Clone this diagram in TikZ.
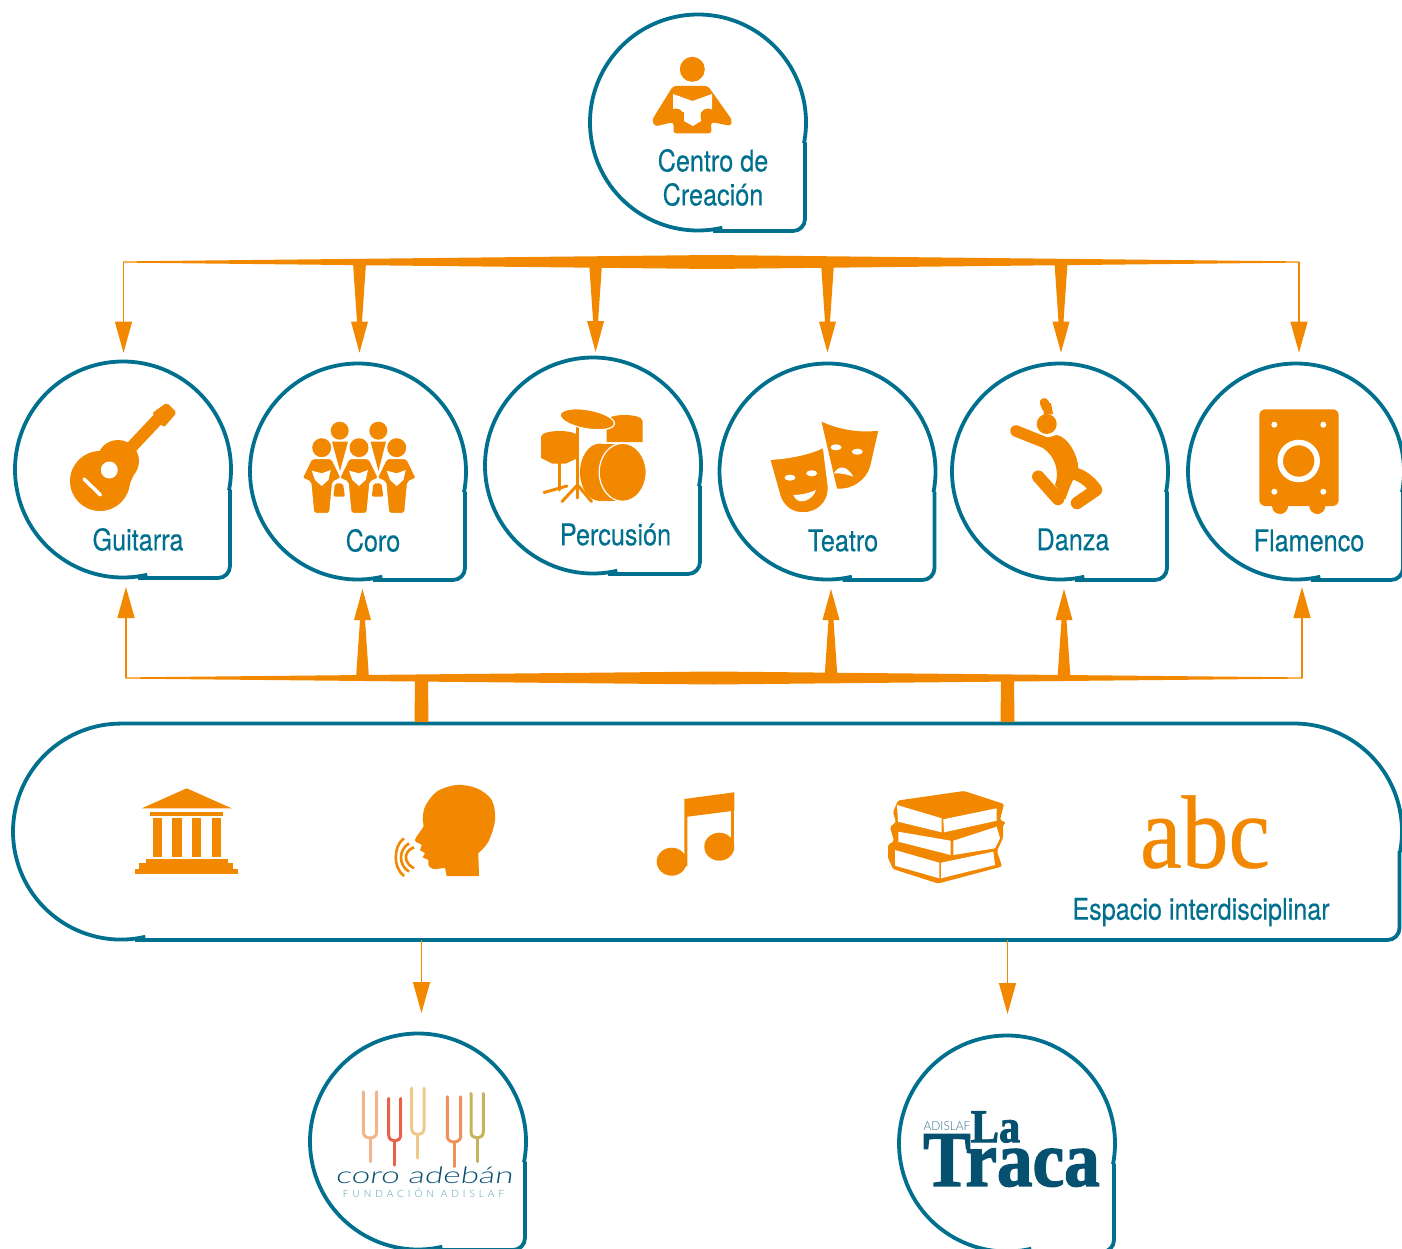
\documentclass[tikz,border=0pt]{standalone}
\usepackage{fontspec}
\usetikzlibrary{arrows.meta,calc}
\setmainfont[FakeStretch=0.84,FakeBold=0.25]{TeX Gyre Heros}
\newfontfamily\abcfont[FakeStretch=0.9,FakeBold=0.4]{Liberation Serif}
\newfontfamily\tracafont[FakeStretch=0.9,FakeBold=1.8]{Liberation Serif Bold}
\newfontfamily\logofont[FakeStretch=0.95]{Lato Light}
\newfontfamily\adebanfont[FakeStretch=1.45,FakeSlant=0.15]{Lato Light}
\newfontfamily\fundacionfont[LetterSpace=40]{Lato Light}
\definecolor{azulgota}{HTML}{00708E}
\definecolor{naranja}{HTML}{F28800}
\definecolor{azultraca}{HTML}{06516F}
\definecolor{horquillaa}{HTML}{F4B48A}
\definecolor{horquillab}{HTML}{E8624A}
\definecolor{horquillac}{HTML}{EEC98A}
\definecolor{horquillad}{HTML}{F0905A}
\definecolor{horquillae}{HTML}{C4B45A}
\tikzset{
    zona/.style={circle,minimum size=216pt,inner sep=0pt,outer sep=0pt},
    banda/.style={rectangle,minimum width=1391pt,minimum height=218pt,inner sep=0pt,outer sep=0pt},
    linea/.style={draw=azulgota,line width=3.8pt},
    rotulo/.style={text=azulgota,font=\fontsize{30}{36}\selectfont,inner sep=0pt,align=center},
    flecha/.style={fill=naranja},
    flechafina/.style={draw=naranja,line width=1.2pt,-{Triangle[length=31pt,width=17pt]}},
    icono/.style={fill=naranja},
    hueco/.style={fill=white},
    trazo/.style={draw=naranja,line cap=round,line join=round}
}
\newcommand{\gota}[1]{
    \draw[linea] ($(#1)+(77:108)$) arc[start angle=77,end angle=371,radius=108];
    \draw[linea,rounded corners=12pt] ($(#1)+(107,20)$) -- ($(#1)+(107,108.5)$) -- ($(#1)+(15,108.5)$);
}
\newcommand{\rama}[4]{
    \fill[flecha] ($(#1 -| #2)+(-#3,0)$) -- ($(#2)+(-2.5,#4)$) -- ($(#2)+(-8.5,#4)$) -- (#2)
        -- ($(#2)+(8.5,#4)$) -- ($(#2)+(2.5,#4)$) -- ($(#1 -| #2)+(#3,0)$) -- cycle;
}
\newcommand{\cantor}[1]{
    \begin{scope}[shift={(#1,0)}]
        \fill[icono] (0,447.7) circle (9.5);
        \fill[icono,draw=white,line width=1.2pt,rounded corners=2pt] (-10,458.5) -- (10,458.5) -- (19.5,478) -- (11,482)
            -- (8,513.5) -- (-8,513.5) -- (-11,482) -- (-19.5,478) -- cycle;
        \fill[hueco] (-10,470.7) -- (0,473.3) -- (9,470) -- (6.7,480) -- (0,486) -- (-6.7,480) -- cycle;
    \end{scope}
}
\newcommand{\diapason}[6]{
    \draw[#6,line width=3pt,line cap=round] (#1,#3) -- (#1,#4-8) .. controls (#1,#4) and (#2,#4) .. (#2,#4-8) -- (#2,#3);
    \draw[#6,line width=3pt,line cap=round] ({(#1+#2)/2},#4-2) -- ({(#1+#2)/2},#5);
}
\begin{document}
\begin{tikzpicture}[x=1pt,y=-1pt]
        \useasboundingbox (0,0) rectangle (1402,1249);

        \node[zona] (centro) at (698,122.5) {};
        \node[zona] (guitarra) at (123,469.5) {};
        \node[zona] (coro) at (358,471.5) {};
        \node[zona] (percusion) at (593,465.5) {};
        \node[zona] (teatro) at (827.5,471.5) {};
        \node[zona] (danza) at (1060,471.5) {};
        \node[zona] (flamenco) at (1296,471.5) {};
        \node[banda] (espacio) at (706.5,831) {};
        \node[zona] (adeban) at (418,1141.5) {};
        \node[zona] (traca) at (1007,1143.5) {};

        \gota{centro}
        \gota{guitarra}
        \gota{coro}
        \gota{percusion}
        \gota{teatro}
        \gota{danza}
        \gota{flamenco}
        \gota{adeban}
        \gota{traca}
        \draw[linea] (145.3,936.8) arc[start angle=77,end angle=270,radius=108] -- (1294,723.5) arc[start angle=270,end angle=371,radius=108];
        \draw[linea,rounded corners=12pt] (1399.5,851) -- (1399.5,940) -- (135,940);

        \coordinate (busarriba) at (712,263);
        \coordinate (busabajo) at (714,678);
        \coordinate (guitarraa) at (123.5,352.7);
        \coordinate (coroa) at (359.5,352.7);
        \coordinate (percusiona) at (595.6,352);
        \coordinate (teatroa) at (827.5,352.7);
        \coordinate (danzaa) at (1061,352.7);
        \coordinate (flamencoa) at (1299,352.7);
        \coordinate (guitarrab) at (126,587);
        \coordinate (corob) at (362.5,589);
        \coordinate (teatrob) at (831,589);
        \coordinate (danzab) at (1064,589);
        \coordinate (flamencob) at (1302,587);
        \coordinate (salidaa) at (421.5,1013);
        \coordinate (salidab) at (1007.5,1014);

        \fill[flecha] (123,261.4) -- (712,255) -- (1299.5,261.4) -- (1299.5,262.6) -- (712,269) -- (123,262.6) -- cycle;
        \fill[flecha] (125.5,677.4) -- (714,671.5) -- (1302.5,677.4) -- (1302.5,678.6) -- (714,684.5) -- (125.5,678.6) -- cycle;

        \draw[flechafina] (123.5,262) -- (guitarraa);
        \rama{busarriba}{coroa}{6.5}{-31}
        \rama{busarriba}{percusiona}{6.5}{-31}
        \rama{busarriba}{teatroa}{6.5}{-31}
        \rama{busarriba}{danzaa}{6.5}{-31}
        \draw[flechafina] (1299,262) -- (flamencoa);

        \draw[flechafina] (126,678) -- (guitarrab);
        \rama{busabajo}{corob}{6.5}{31}
        \rama{busabajo}{teatrob}{6.5}{31}
        \rama{busabajo}{danzab}{6.5}{31}
        \draw[flechafina] (1302,678) -- (flamencob);

        \fill[flecha] (415,680) -- (428,680) -- (428.5,722) -- (414.5,722) -- cycle;
        \fill[flecha] (1001,680) -- (1014,680) -- (1014.5,722) -- (1000.5,722) -- cycle;
        \draw[flechafina] (espacio.south -| salidaa) -- (salidaa);
        \draw[flechafina] (espacio.south -| salidab) -- (salidab);

        \node[rotulo] (centrot) at (713,177.5) {Centro de\\[-2pt]Creación};
        \node[rotulo] (guitarrat) at (138,539.5) {Guitarra};
        \node[rotulo] (corot) at (373,540.5) {Coro};
        \node[rotulo] (percusiont) at (615.5,534.5) {Percusión};
        \node[rotulo] (teatrot) at (843,540.5) {Teatro};
        \node[rotulo] (danzat) at (1073,539.5) {Danza};
        \node[rotulo] (flamencot) at (1309,540.5) {Flamenco};
        \node[rotulo] (espaciot) at (1201,912) {Espacio interdisciplinar};
        \node[text=naranja,inner sep=0pt,font=\abcfont\fontsize{104}{104}\selectfont] (abc) at (1205,832) {abc};

        \fill[icono] (692.3,69.3) circle (12.5);
        \fill[icono,rounded corners=3pt] (673,86) -- (708,86) -- (732,120) -- (731,126) -- (711,122) -- (711.5,133.5)
            -- (673.5,133.5) -- (673.5,122) -- (655,126.5) -- (652,120) -- cycle;
        \fill[hueco] (673,94) -- (692.5,101) -- (712,94) -- (712,112) -- (701,112) -- (701,121) -- (693,126)
            -- (684,121) -- (684,112) -- (673,112) -- cycle;
        \fill[icono] (676,116) circle (7.5);
        \fill[icono] (708,116) circle (7.5);

        \fill[icono] (100,481) circle (30);
        \fill[icono] (118,461) circle (21);
        \fill[icono] (96,455) -- (118,442) -- (138,465) -- (125,495) -- cycle;
        \draw[trazo,line width=12pt,line cap=butt] (110,470) -- (158,419);
        \fill[icono,rounded corners=2pt] (152.3,413) -- (166.7,402.7) -- (176.7,412.7) -- (164,427.3) -- (160,423.3) -- cycle;
        \fill[hueco] (109.3,470) circle (8.5);
        \draw[white,line width=3.5pt,line cap=round] (84,479) -- (100.5,495);

        \fill[icono] (339.7,430.7) circle (9);
        \fill[icono] (378.3,430.7) circle (9);
        \fill[icono] (332,441.5) -- (348,441.5) -- (340,471) -- cycle;
        \fill[icono] (370.5,441.5) -- (386,441.5) -- (378.5,471) -- cycle;
        \fill[icono,rounded corners=2pt] (335,483.3) -- (343,483.3) -- (345,496.7) -- (333.3,496.7) -- cycle;
        \fill[icono,rounded corners=2pt] (373.5,483.3) -- (381.5,483.3) -- (383.3,496.7) -- (371.7,496.7) -- cycle;
        \cantor{321.7}
        \cantor{396.7}
        \cantor{359}

        \fill[icono] (541,437) .. controls (541,429) and (578,429) .. (578,437) -- (578,458) -- (566,463.5) -- (552,463.5) -- (541,458) -- cycle;
        \fill[icono] (606.7,421) .. controls (606.7,413) and (642.5,413) .. (642.5,421) -- (642.5,442) -- (606.7,442) -- cycle;
        \draw[trazo,line width=3pt] (559.3,462) -- (559.3,490);
        \draw[trazo,line width=3pt] (544,492.5) -- (567,486);
        \draw[trazo,line width=3pt] (577.3,427) -- (577.3,498);
        \draw[trazo,line width=3pt] (562,501.5) -- (576.5,486);
        \draw[trazo,line width=3pt] (591.5,501.5) -- (578.5,486);
        \fill[icono] (600,443.5) -- (622.7,443.5) -- (622.7,501) -- (600,501) -- cycle;
        \fill[icono] (600,472.3) ellipse (20 and 28.7);
        \fill[icono,draw=white,line width=1.2pt] (622.7,472.3) ellipse (23.5 and 29);
        \fill[icono,draw=white,line width=1.2pt,rotate around={-10:(587.3,419.3)}] (587.3,419.3) ellipse (27.5 and 9.5);

        \fill[icono] (821.5,421.7) .. controls (840,430) and (860,433) .. (878.3,430.7) -- (870,466.7)
            .. controls (866,480) and (852,490) .. (837,488.5) -- cycle;
        \fill[hueco] (836,447.3) ellipse (5.5 and 3);
        \fill[hueco] (857.3,451.7) ellipse (5.5 and 3);
        \fill[hueco] (834,473.3) .. controls (838,466) and (846,464) .. (853.3,476.7) .. controls (846,474) and (840,473) .. cycle;
        \fill[icono,draw=white,line width=1.5pt] (769.5,459.3) .. controls (790,458) and (810,454) .. (823.5,447) -- (828.5,486.7)
            .. controls (829,505) and (815,513) .. (803.3,513) .. controls (790,513) and (783,505) .. (780,496.7) -- cycle;
        \fill[hueco] (790,477.7) ellipse (5.5 and 3);
        \fill[hueco] (811.7,473.3) ellipse (5.5 and 3);
        \fill[hueco] (793.3,495) .. controls (800,495) and (810,493) .. (816,490) .. controls (813,500) and (798,507) .. cycle;

        \fill[icono] (1046.7,424) circle (10);
        \draw[trazo,line width=9pt,line cap=round] (1044.3,402.5) -- (1046.5,408);
        \fill[icono] (1042.5,403) -- (1051,403) -- (1053,414) -- (1044,415) -- cycle;
        \draw[trazo,line width=11.5pt] (1016,431) -- (1046,443);
        \fill[icono] (1056.7,435) .. controls (1068,437) and (1078,455) .. (1078.3,468.3) -- (1070,486.7) -- (1065,500)
            -- (1055,485) .. controls (1060,472) and (1055,456) .. (1043.3,448.3) -- (1046,438) -- cycle;
        \draw[trazo,line width=12.5pt] (1058,499) -- (1038.3,476.7);
        \draw[trazo,line width=12.5pt] (1076,474) .. controls (1085,477) and (1092,484) .. (1096,490) -- (1077,503);

        \fill[icono] (1280,506) circle (8);
        \fill[icono] (1317.3,506) circle (8);
        \fill[icono,rounded corners=6pt] (1259.3,409.3) rectangle (1338.7,506);
        \fill[hueco] (1274.3,424.7) circle (3);
        \fill[hueco] (1323.3,424.7) circle (3);
        \fill[hueco] (1274.3,491.7) circle (3);
        \fill[hueco] (1323.3,491.7) circle (3);
        \draw[white,line width=5.5pt] (1298.7,461) circle (18.5);

        \fill[icono] (141.7,808.3) -- (186.7,788.3) -- (231.7,808.3) -- cycle;
        \fill[icono] (150,811.7) rectangle (223.3,815.7);
        \fill[icono] (152.7,818.3) rectangle (161.7,856.7);
        \fill[icono] (172.3,818.3) rectangle (181.7,856.7);
        \fill[icono] (192,818.3) rectangle (201.3,856.7);
        \fill[icono] (211.7,818.3) rectangle (221,856.7);
        \fill[icono] (146,859) rectangle (227.7,863.3);
        \fill[icono] (139.3,863.3) rectangle (233.3,869.3);
        \fill[icono] (135,869.3) rectangle (238.3,874.3);

        \fill[icono] plot[smooth,tension=.55] coordinates {(478.3,853.3) (488.3,841.7) (495,820) (491.7,800) (476.7,788.3)
            (456.7,785) (436.7,791.7) (425,806.7) (422.7,820) (423.3,826.7) (415,840) (421.7,845) (420,850)
            (425,853.3) (422.7,857.3) (428.3,860) (428.3,865) (433.3,869) (445,867.7)} -- (446.7,876) -- (479,876) -- cycle;
        \draw[naranja,line width=2.6pt] (414,847.3) .. controls (403.3,851) and (403.3,863) .. (414,868.3);
        \draw[naranja,line width=2.6pt] (409,843.3) .. controls (398.3,850) and (398.3,865) .. (409,871.7);
        \draw[naranja,line width=2.6pt] (404,838.3) .. controls (393,846) and (393,868) .. (404,876);

        \fill[icono] (684.3,799) -- (734.3,792.3) -- (734.3,810.7) -- (687.3,816.7) -- (687.3,866) -- (684.3,866) -- cycle;
        \fill[icono] (731,808) rectangle (734.3,846.7);
        \fill[icono] (671.7,861.7) ellipse (15 and 14);
        \fill[icono] (719.3,846.7) ellipse (15 and 14);

        \fill[icono,rounded corners=1.5pt] (898,800.5) -- (964,791) -- (1004,804) -- (1000,820) -- (1006,822.5) -- (1003,825) -- (1003,838)
            -- (997,851) -- (1002,866.5) -- (938,883.5) -- (893,869) -- (888,858) -- (888,845) -- (894,841) -- (890,827) -- (896,822)
            -- (893,812) -- cycle;
        \fill[hueco] (897,805) -- (941.7,818.3) -- (941.7,832.3) -- (898,821.7) -- cycle;
        \fill[hueco] (943.3,819.3) -- (996.7,808.3) -- (996.7,820.7) -- (944,832.3) -- cycle;
        \fill[hueco] (898.3,831.7) -- (950.7,840.7) -- (950.7,855) -- (898.3,841.7) -- cycle;
        \fill[hueco] (953.3,840.7) -- (996.7,826.7) -- (1000,838.3) -- (995,848.3) -- (953.3,855) -- cycle;
        \fill[hueco] (895,850) -- (939.3,862.7) -- (939.3,878.3) -- (895,865.7) -- cycle;
        \fill[hueco] (941,862.7) -- (993.3,851.7) -- (995,865) -- (941,878.3) -- cycle;

        \diapason{363.3}{376.7}{1091.7}{1140}{1161.7}{horquillaa}
        \diapason{388.7}{400.7}{1098.3}{1143}{1165}{horquillab}
        \diapason{411.7}{424}{1088}{1136.7}{1158}{horquillac}
        \diapason{447.3}{460.7}{1096.7}{1144}{1166.7}{horquillad}
        \diapason{471}{483.3}{1093.3}{1140}{1161.7}{horquillae}
        \node[text=azultraca,inner sep=0pt,font=\adebanfont\fontsize{23}{23}\selectfont] (adebant) at (424,1175) {coro adebán};
        \node[text=azulgota!70!white,inner sep=0pt,font=\fundacionfont\fontsize{10}{10}\selectfont] (fundaciont) at (423.5,1192.5) {FUNDACIÓN ADISLAF};

        \node[text=azultraca!80!white,inner sep=0pt,font=\logofont\fontsize{12.5}{12.5}\selectfont] (adislaft) at (947,1126) {ADISLAF};
        \node[text=azultraca,inner sep=0pt,font=\tracafont\fontsize{47}{47}\selectfont] (lat) at (995.5,1127) {La};
        \node[text=azultraca,inner sep=0pt,font=\tracafont\fontsize{79}{79}\selectfont] (tracat) at (1011.5,1160.5) {Traca};
\end{tikzpicture}
\end{document}
